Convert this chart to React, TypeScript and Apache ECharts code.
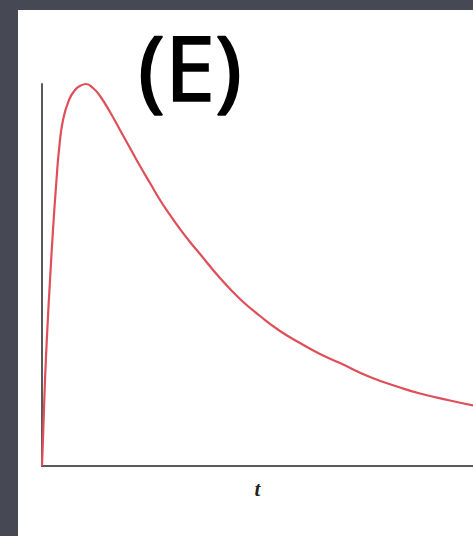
import React, { useEffect, useRef } from "react";
import * as echarts from "echarts";

// Time after dose (arbitrary units, 0–100 across the axis)
const timePoints = [
  0, 0.3, 0.7, 1.23, 1.86, 2.55, 3.36, 3.94, 4.87, 6.26, 7.66, 8.82, 10.21,
  11.83, 13.46, 15.78, 18.1, 20.42, 22.74, 25.06, 27.38, 29.7, 32.02, 34.34,
  36.66, 41.3, 45.94, 50.58, 55.22, 59.86, 64.5, 69.14, 76.1, 83.06, 87.7,
  94.66, 100,
];

// Relative level (peak = 100)
const levels = [
  0, 9.42, 22.51, 35.6, 48.69, 61.78, 74.87, 82.72, 90.58, 95.81, 98.43, 99.48,
  100, 98.95, 96.86, 92.67, 87.96, 83.25, 78.53, 74.08, 69.63, 65.71, 62.04,
  58.64, 55.5, 49.21, 43.72, 39.27, 35.34, 32.2, 29.32, 26.96, 23.3, 20.55,
  18.98, 17.15, 15.84,
];

const panelLabel = "(E)";
const xAxisName = "t";

export default function App() {
  const ref = useRef<HTMLDivElement>(null);

  useEffect(() => {
    if (!ref.current) return;
    const chart = echarts.init(ref.current, undefined, { renderer: "svg" });
    const data = timePoints.map((t, i) => [t, levels[i]]);

    chart.setOption({
      animation: false,
      backgroundColor: "#464854",
      graphic: [
        {
          type: "rect",
          z: -10,
          shape: { x: 18, y: 10, width: 460, height: 530 },
          style: { fill: "#ffffff" },
          silent: true,
        },
        {
          type: "text",
          x: 190,
          y: 66,
          style: {
            text: panelLabel,
            fontFamily: "Noto Sans",
            fontSize: 90,
            fill: "#000000",
            stroke: "#000000",
            lineWidth: 1.6,
            align: "center",
            verticalAlign: "middle",
          },
        },
      ],
      grid: { left: 42, top: 84, right: 0, bottom: 70 },
      xAxis: {
        type: "value",
        min: 0,
        max: 100,
        name: xAxisName,
        nameLocation: "middle",
        nameGap: 12,
        nameTextStyle: {
          fontFamily: "Liberation Serif",
          fontStyle: "italic",
          fontWeight: "bold",
          fontSize: 21,
          color: "#222222",
        },
        axisLine: { show: true, lineStyle: { color: "#5a5a5a", width: 2 } },
        axisTick: { show: false },
        axisLabel: { show: false },
        splitLine: { show: false },
      },
      yAxis: {
        type: "value",
        min: 0,
        max: 100,
        axisLine: { show: true, lineStyle: { color: "#5a5a5a", width: 2 } },
        axisTick: { show: false },
        axisLabel: { show: false },
        splitLine: { show: false },
      },
      series: [
        {
          type: "line",
          data,
          smooth: 0.5,
          showSymbol: false,
          clip: false,
          lineStyle: { color: "#df4f5a", width: 2.2 },
        },
      ],
    });

    return () => chart.dispose();
  }, []);

  return (
    <div
      ref={ref}
      style={{ position: "fixed", left: 0, top: 0, width: 473, height: 536 }}
    />
  );
}
